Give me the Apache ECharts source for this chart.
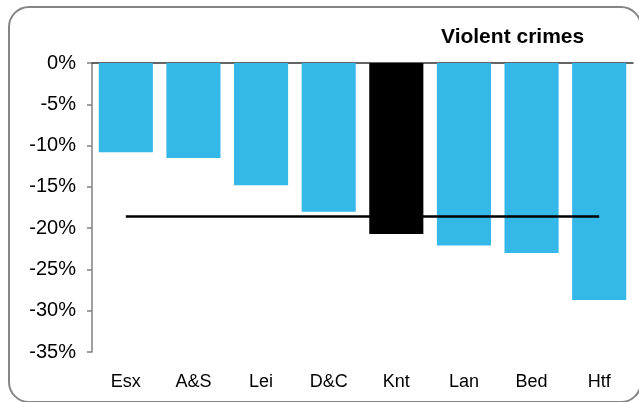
<!DOCTYPE html>
<html>
<head>
<meta charset="utf-8">
<script src="https://cdn.jsdelivr.net/npm/echarts@6/dist/echarts.min.js"></script>
<style>
    html, body { margin: 0; padding: 0; background: #fff; }
    #chart { width: 639px; height: 402px; }
</style>
</head>
<body>
<div id="chart"></div>
<script>
// data
var categories = ['Esx', 'A&S', 'Lei', 'D&C', 'Knt', 'Lan', 'Bed', 'Htf'];
var changes = [-10.8, -11.5, -14.8, -18.0, -20.7, -22.1, -23.0, -28.7];
var average = [-18.6, -18.6, -18.6, -18.6, -18.6, -18.6, -18.6, -18.6];
var highlight = 'Knt';

var myChart = echarts.init(document.getElementById('chart'));

var barData = changes.map(function (v, i) {
    return {
        value: v,
        itemStyle: { color: categories[i] === highlight ? '#000000' : '#33b8e8' }
    };
});

myChart.setOption({
    animation: false,
    textStyle: { fontFamily: 'Liberation Sans, Arial, sans-serif' },
    title: {
        text: 'Violent crimes',
        left: 441,
        top: 27,
        padding: 0,
        textStyle: {
            fontSize: 21,
            fontWeight: 'bold',
            color: '#000',
        }
    },
    graphic: [{
        type: 'rect',
        shape: { x: 9, y: 7, width: 632, height: 395, r: 20 },
        style: { fill: 'none', stroke: '#858585', lineWidth: 2 },
        silent: true,
    }],
    grid: {
        top: 63,
        left: 92,
        right: 6,
        bottom: 50,
    },
    xAxis: [{
        type: 'category',
        data: categories,
        position: 'bottom',
        axisLine: { show: false, onZero: false },
        axisTick: { show: false },
        axisLabel: {
            color: '#000',
            fontSize: 18,
            margin: 21,
        },
    }, {
        type: 'category',
        data: categories,
        position: 'top',
        axisLine: { show: true, onZero: false, lineStyle: { color: '#333', width: 1.5 } },
        axisTick: { show: false },
        axisLabel: { show: false },
    }],
    yAxis: {
        type: 'value',
        min: -35,
        max: 0,
        interval: 5,
        axisLine: { show: true, lineStyle: { color: '#808080', width: 1.5 } },
        axisTick: { show: true, length: 5, lineStyle: { color: '#808080', width: 1.5 } },
        splitLine: { show: false },
        axisLabel: {
            color: '#000',
            fontSize: 20,
            margin: 16,
            formatter: '{value}%',
        },
    },
    series: [{
        name: 'Change',
        type: 'bar',
        data: barData,
        barCategoryGap: '20%',
    }, {
        name: 'Average',
        type: 'line',
        data: average,
        symbol: 'none',
        lineStyle: { color: '#000', width: 2.5 },
        z: 3,
    }],
});
</script>
</body>
</html>
